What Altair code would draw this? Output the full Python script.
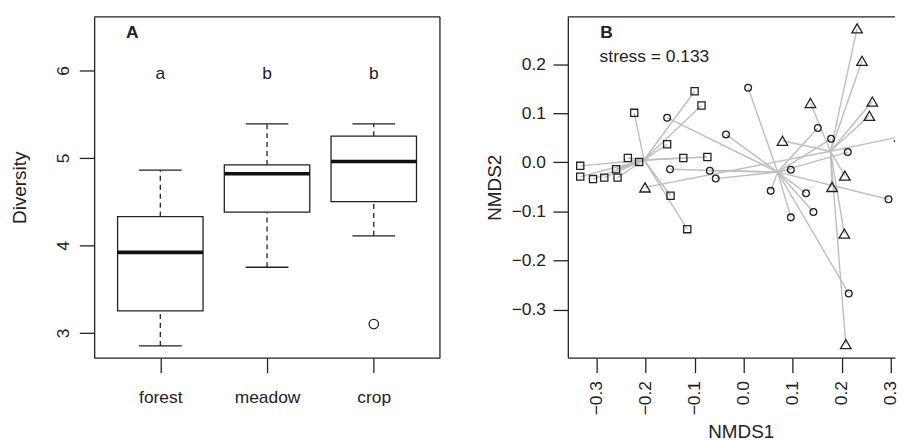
import altair as alt
import pandas as pd

# ---------------- Panel A data (boxplot statistics) ----------------
groups = ["forest", "meadow", "crop"]
whisker_low = [2.85, 3.75, 4.11]
q1 = [3.25, 4.38, 4.50]
median = [3.92, 4.82, 4.96]
q3 = [4.33, 4.92, 5.25]
whisker_high = [4.86, 5.39, 5.39]
outlier_group = ["crop"]
outlier_value = [3.10]
letters = ["a", "b", "b"]
letter_y = [5.9, 5.9, 5.9]

# ---------------- Panel B data (NMDS scores) ----------------
forest_x = [-0.333, -0.333, -0.307, -0.284, -0.260, -0.257, -0.236, -0.213,
            -0.223, -0.100, -0.086, -0.156, -0.123, -0.074, -0.149, -0.115]
forest_y = [-0.007, -0.029, -0.034, -0.031, -0.014, -0.031, 0.009, 0.001,
            0.101, 0.145, 0.116, 0.037, 0.009, 0.011, -0.068, -0.136]
meadow_x = [0.009, -0.156, -0.036, -0.150, -0.069, -0.057, 0.096, 0.055,
            0.151, 0.178, 0.212, 0.127, 0.295, 0.096, 0.142, 0.214]
meadow_y = [0.152, 0.091, 0.057, -0.014, -0.017, -0.033, -0.015, -0.058,
            0.070, 0.048, 0.021, -0.063, -0.075, -0.112, -0.101, -0.267]
crop_x = [-0.201, 0.079, 0.136, 0.231, 0.241, 0.262, 0.256, 0.318,
          0.206, 0.180, 0.205, 0.208]
crop_y = [-0.051, 0.044, 0.121, 0.273, 0.207, 0.124, 0.095, 0.052,
          -0.027, -0.050, -0.145, -0.370]
stress_label = "stress = 0.133"

# ---------------- styling ----------------
FONT = "Liberation Sans"
INK = "#222222"
LW = 1.3
W_A, H = 348, 343
W_B = 329.3
PX_PER_UNIT = 494.0
XB_MIN = -0.3583
YB_MIN = -0.3978
shape_of = {"forest": "square", "meadow": "circle", "crop": "triangle-up"}
size_of = {"forest": 52, "meadow": 46, "crop": 112}

box_df = pd.DataFrame({
    "group": groups, "lo": whisker_low, "q1": q1, "med": median,
    "q3": q3, "hi": whisker_high, "letter": letters, "ly": letter_y,
})
out_df = pd.DataFrame({"group": outlier_group, "value": outlier_value})

xA = alt.X("group:N",
           scale=alt.Scale(type="point", domain=groups, padding=0.62),
           axis=alt.Axis(title=None, labelAngle=0, labelBaseline="alphabetic",
                         labelPadding=30.5, tickSize=15, labelFontSize=17.5,
                         domainColor=INK, tickColor=INK, labelColor=INK,
                         domainWidth=LW, tickWidth=LW, grid=False))
yA_scale = alt.Scale(domain=[2.716, 6.614], nice=False, zero=False)
yA_axis = alt.Axis(title="Diversity", values=[3, 4, 5, 6], format="d",
                   labelAngle=270, labelAlign="center", labelBaseline="alphabetic",
                   labelPadding=10.7, tickSize=15, labelFontSize=17.5,
                   titleFontSize=19, titleFontWeight="normal", titleAngle=270,
                   titleAlign="center", titleBaseline="alphabetic",
                   titleX=-69.3, titleY=H / 2,
                   domainColor=INK, tickColor=INK, labelColor=INK, titleColor=INK,
                   domainWidth=LW, tickWidth=LW, grid=False)

baseA = alt.Chart(box_df)
upper_wh = baseA.mark_rule(color=INK, strokeWidth=LW, strokeDash=[5, 4]).encode(
    x=xA, y=alt.Y("q3:Q", scale=yA_scale, axis=yA_axis), y2="hi:Q")
lower_wh = baseA.mark_rule(color=INK, strokeWidth=LW, strokeDash=[5, 4]).encode(
    x=xA, y=alt.Y("lo:Q", scale=yA_scale), y2="q1:Q")
cap_hi = baseA.mark_tick(color=INK, size=43, thickness=LW, opacity=1).encode(
    x=xA, y=alt.Y("hi:Q", scale=yA_scale))
cap_lo = baseA.mark_tick(color=INK, size=43, thickness=LW, opacity=1).encode(
    x=xA, y=alt.Y("lo:Q", scale=yA_scale))
boxes = baseA.mark_bar(size=86, fill="white", stroke=INK, strokeWidth=LW,
                       opacity=1).encode(
    x=xA, y=alt.Y("q1:Q", scale=yA_scale), y2="q3:Q")
medians = baseA.mark_tick(color="#111111", size=86, thickness=3.6, opacity=1).encode(
    x=xA, y=alt.Y("med:Q", scale=yA_scale))
outliers = alt.Chart(out_df).mark_point(shape="circle", filled=False, color=INK,
                                        strokeWidth=LW, size=90, opacity=1).encode(
    x=xA, y=alt.Y("value:Q", scale=yA_scale))
letter_text = baseA.mark_text(font=FONT, fontSize=17.5, color=INK,
                              baseline="alphabetic", align="center").encode(
    x=xA, y=alt.Y("ly:Q", scale=yA_scale), text="letter:N")
labelA = alt.Chart(pd.DataFrame({"t": ["A"]})).mark_text(
    font=FONT, fontSize=17.5, fontWeight="bold", color=INK,
    align="left", baseline="alphabetic").encode(
    x=alt.value(32), y=alt.value(21), text="t:N")
topA = alt.Chart(pd.DataFrame({"t": [0]})).mark_rule(color=INK, strokeWidth=LW).encode(
    x=alt.value(0), x2=alt.value(W_A), y=alt.value(0))
rightA = alt.Chart(pd.DataFrame({"t": [0]})).mark_rule(color=INK, strokeWidth=LW).encode(
    x=alt.value(W_A), y=alt.value(0), y2=alt.value(H))

panelA = alt.layer(upper_wh, lower_wh, cap_hi, cap_lo, boxes, medians, outliers,
                   letter_text, labelA, topA, rightA).properties(width=W_A, height=H)

# ---------------- Panel B ----------------
pts = pd.DataFrame({
    "x": forest_x + meadow_x + crop_x,
    "y": forest_y + meadow_y + crop_y,
    "group": ["forest"] * len(forest_x) + ["meadow"] * len(meadow_x) + ["crop"] * len(crop_x),
})

xB_scale = alt.Scale(domain=[XB_MIN, XB_MIN + W_B / PX_PER_UNIT], nice=False, zero=False)
yB_scale = alt.Scale(domain=[YB_MIN, YB_MIN + H / PX_PER_UNIT], nice=False, zero=False)
xB_axis = alt.Axis(title="NMDS1", values=[-0.3, -0.2, -0.1, 0.0, 0.1, 0.2, 0.3],
                   format=".1f", labelAngle=270, labelAlign="right",
                   labelBaseline="middle", labelPadding=8, tickSize=15,
                   labelFontSize=17.5, titleFontSize=19, titleFontWeight="normal",
                   titleAlign="center", titleBaseline="alphabetic",
                   titleX=174, titleY=80,
                   domainColor=INK, tickColor=INK, labelColor=INK, titleColor=INK,
                   domainWidth=LW, tickWidth=LW, grid=False, labelFlush=False,
                   labelOverlap=False)
yB_axis = alt.Axis(title="NMDS2", values=[-0.3, -0.2, -0.1, 0.0, 0.1, 0.2],
                   format=".1f", labelAngle=0, labelAlign="right",
                   labelBaseline="middle", labelPadding=7.5, tickSize=15,
                   labelFontSize=17.5, titleFontSize=19, titleFontWeight="normal",
                   titleAngle=270, titleAlign="center", titleBaseline="alphabetic",
                   titleX=-67.5, titleY=H / 2,
                   domainColor=INK, tickColor=INK, labelColor=INK, titleColor=INK,
                   domainWidth=LW, tickWidth=LW, grid=False, labelFlush=False,
                   labelOverlap=False)

spider = alt.Chart(pts).transform_joinaggregate(
    cx="mean(x)", cy="mean(y)", groupby=["group"]
).mark_rule(color="#bebebe", strokeWidth=1.4, clip=True).encode(
    x=alt.X("x:Q", scale=xB_scale, axis=xB_axis),
    y=alt.Y("y:Q", scale=yB_scale, axis=yB_axis),
    x2="cx:Q", y2="cy:Q")

point_layers = []
for g in groups:
    point_layers.append(
        alt.Chart(pts).transform_filter(alt.datum.group == g).mark_point(
            shape=shape_of[g], size=size_of[g], filled=False, color=INK,
            strokeWidth=LW, clip=True, opacity=1).encode(
            x=alt.X("x:Q", scale=xB_scale),
            y=alt.Y("y:Q", scale=yB_scale)))

labelB = alt.Chart(pd.DataFrame({"t": ["B"]})).mark_text(
    font=FONT, fontSize=17.5, fontWeight="bold", color=INK,
    align="left", baseline="alphabetic").encode(
    x=alt.value(32.6), y=alt.value(21), text="t:N")
stress = alt.Chart(pd.DataFrame({"t": [stress_label]})).mark_text(
    font=FONT, fontSize=17.5, color=INK, align="left", baseline="alphabetic").encode(
    x=alt.value(32), y=alt.value(45.5), text="t:N")
topB = alt.Chart(pd.DataFrame({"t": [0]})).mark_rule(color=INK, strokeWidth=LW).encode(
    x=alt.value(0), x2=alt.value(W_B), y=alt.value(0))

panelB = alt.layer(spider, *point_layers, labelB, stress, topB).properties(
    width=W_B, height=H)

chart = alt.hconcat(panelA, panelB, spacing=128.7, bounds="flush").properties(
    padding={"left": 1.7, "top": 5.5, "right": 0, "bottom": 0}
).configure(font=FONT).configure_view(stroke="transparent").configure_axis(
    labelFont=FONT, titleFont=FONT)

chart.save("out.html", embed_options={"renderer": "svg", "actions": False})
